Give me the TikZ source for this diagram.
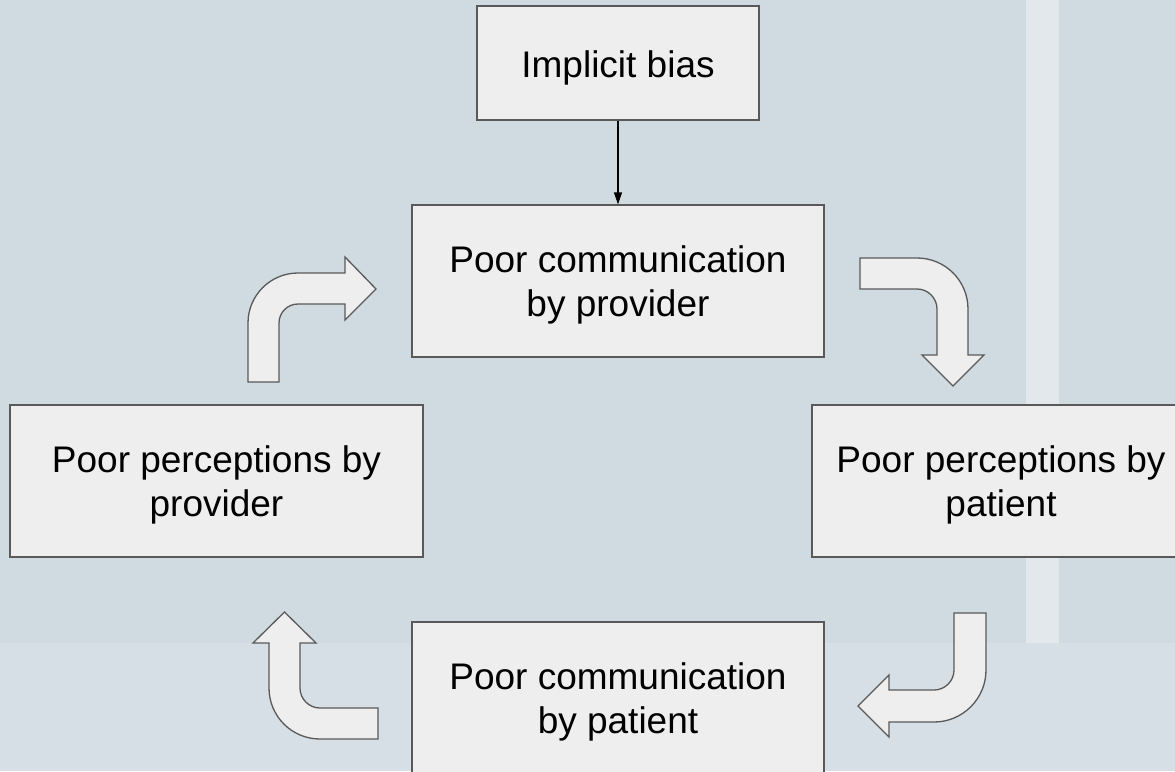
\documentclass[tikz,border=0pt]{standalone}
\usepackage{fontspec}
\setmainfont{Liberation Sans}
\usetikzlibrary{arrows.meta}
\definecolor{bgmain}{HTML}{CFDAE1}
\definecolor{bgband}{HTML}{D6DFE5}
\definecolor{bgstripe}{HTML}{E3E8EC}
\definecolor{boxfill}{HTML}{EEEEEE}
\definecolor{boxline}{HTML}{595959}
\newcommand{\twolines}[2]{\begin{tabular}{@{}c@{}}\rule{0pt}{40.5pt}#1\\#2\end{tabular}}
\newcommand{\oneline}[1]{\begin{tabular}{@{}c@{}}\rule{0pt}{43pt}#1\end{tabular}}
\begin{document}
\begin{tikzpicture}[x=1pt,y=-1pt,
  stepbox/.style={draw=boxline, fill=boxfill, line width=1.3pt, inner sep=0pt,
    font=\fontsize{37}{43.5}\selectfont, minimum height=152pt},
  blockarrow/.style={draw=boxline, fill=boxfill, line width=1.3pt, line join=miter},
  thinarrow/.style={draw=black, line width=1.3pt, -{Triangle[length=12pt,width=8pt]}}]
\useasboundingbox (0,0) rectangle (1175,771);
\clip (0,0) rectangle (1175,771);
% background
\fill[bgmain] (0,0) rectangle (1175,771);
\fill[bgband] (0,643) rectangle (1175,771);
\fill[bgstripe] (1026,0) rectangle (1059,643);
% boxes
\node[stepbox, minimum width=282pt, minimum height=114pt] (bias) at (618,63) {\oneline{Implicit bias}};
\node[stepbox, minimum width=412pt] (pcomm) at (618,281) {\twolines{Poor communication}{by provider}};
\node[stepbox, minimum width=413pt] (pperc) at (216.5,481) {\twolines{Poor perceptions by}{provider}};
\node[stepbox, minimum width=378pt] (patperc) at (1001,481) {\twolines{Poor perceptions by}{patient}};
\node[stepbox, minimum width=412pt] (patcomm) at (618,698) {\twolines{Poor communication}{by patient}};
% connector
\draw[thinarrow] (bias.south) -- (pcomm.north);
% upper left block arrow
\draw[blockarrow] (248,382) -- (248,323) .. controls (248,295.4) and (270.4,273) .. (298,273)
  -- (345,273) -- (345,257) -- (376,289) -- (345,320) -- (345,304) -- (298,304)
  .. controls (287.5,304) and (279,312.5) .. (279,323) -- (279,382) -- cycle;
% upper right block arrow
\draw[blockarrow] (860,258) -- (917,258) .. controls (945.2,258) and (968,280.8) .. (968,309)
  -- (968,355) -- (984,355) -- (953,386) -- (922,355) -- (937,355) -- (937,309)
  .. controls (937,298) and (928,289) .. (917,289) -- (860,289) -- cycle;
% lower right block arrow
\draw[blockarrow] (954,613) -- (986,613) -- (986,670) .. controls (986,698.7) and (962.7,722) .. (934,722)
  -- (889,722) -- (889,737) -- (858,706) -- (889,675) -- (889,690) -- (934,690)
  .. controls (945,690) and (954,681) .. (954,670) -- cycle;
% lower left block arrow
\draw[blockarrow] (378,708) -- (320,708) .. controls (309,708) and (300,699) .. (300,688)
  -- (300,643) -- (316,643) -- (284.5,612) -- (253,643) -- (269,643) -- (269,688)
  .. controls (269,716.2) and (291.8,739) .. (320,739) -- (378,739) -- cycle;
\end{tikzpicture}
\end{document}
